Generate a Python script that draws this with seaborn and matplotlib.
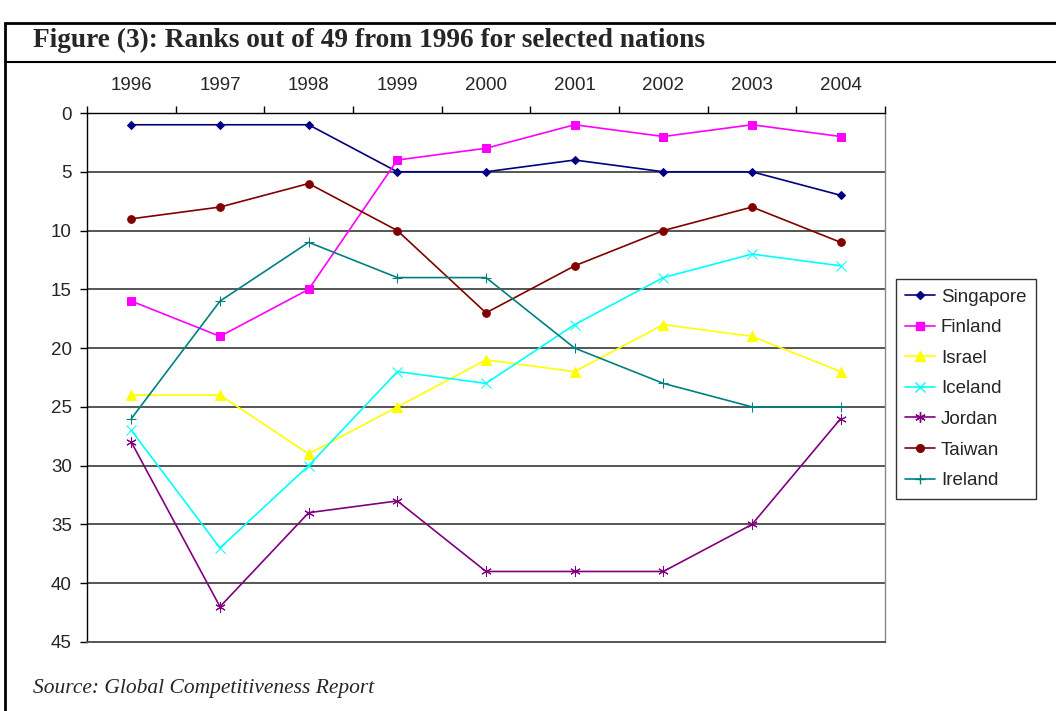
import matplotlib
matplotlib.use("Agg")
import matplotlib.pyplot as plt
import seaborn as sns
import pandas as pd
from matplotlib.patches import Rectangle
from matplotlib.lines import Line2D

years = ["1996", "1997", "1998", "1999", "2000", "2001", "2002", "2003", "2004"]
singapore = [1, 1, 1, 5, 5, 4, 5, 5, 7]
finland = [16, 19, 15, 4, 3, 1, 2, 1, 2]
israel = [24, 24, 29, 25, 21, 22, 18, 19, 22]
iceland = [27, 37, 30, 22, 23, 18, 14, 12, 13]
jordan = [28, 42, 34, 33, 39, 39, 39, 35, 26]
taiwan = [9, 8, 6, 10, 17, 13, 10, 8, 11]
ireland = [26, 16, 11, 14, 14, 20, 23, 25, 25]

series = {
    "Singapore": singapore, "Finland": finland, "Israel": israel,
    "Iceland": iceland, "Jordan": jordan, "Taiwan": taiwan, "Ireland": ireland,
}
styles = {
    "Singapore": ("#000080", "D", 4.5),
    "Finland": ("#FF00FF", "s", 5.5),
    "Israel": ("#FFFF00", "^", 6.5),
    "Iceland": ("#00FFFF", "x", 6.5),
    "Jordan": ("#800080", (6, 2, 0), 7.5),
    "Taiwan": ("#800000", "o", 5.5),
    "Ireland": ("#008080", "+", 7.5),
}

sns.set_style("white")
plt.rcParams["font.family"] = ["Liberation Sans", "DejaVu Sans"]

fig = plt.figure(figsize=(10.56, 7.11), dpi=100)
ax = fig.add_axes([87 / 1056, 1 - 642 / 711, (885 - 87) / 1056, (642 - 113) / 711])

xs = list(range(len(years)))
handles = []
for name, vals in series.items():
    c, m, s = styles[name]
    df = pd.DataFrame({"x": xs, "y": vals})
    sns.lineplot(data=df, x="x", y="y", ax=ax, color=c, marker=m, markersize=s,
                 markeredgecolor=c, markerfacecolor=c, linewidth=1.2, label=name, legend=False)
    handles.append(Line2D([0], [0], color=c, marker=m, markersize=s, markeredgecolor=c,
                          markerfacecolor=c, linewidth=1.2, label=name))

ax.set_xlim(-0.5, len(years) - 0.5)
ax.set_ylim(45, 0)
ax.set_yticks(range(0, 46, 5))
ax.set_xlabel("")
ax.set_ylabel("")
for y in range(5, 45, 5):
    ax.axhline(y, color="#555555", linewidth=1.4, zorder=0)

ax.xaxis.tick_top()
ax.set_xticks([i + 0.5 for i in range(len(years) - 1)] + [-0.5, len(years) - 0.5], minor=True)
ax.set_xticks(xs)
ax.set_xticklabels(years, fontsize=13.5)
ax.tick_params(axis="x", which="major", length=0, pad=14, top=True, bottom=False)
ax.tick_params(axis="x", which="minor", length=5, width=1, color="black", top=True, bottom=False, direction="out")
ax.tick_params(axis="y", which="major", length=5, width=1, color="black", labelsize=13.5, left=True, direction="out", pad=6)

ax.spines["top"].set_color("black")
ax.spines["left"].set_color("black")
ax.spines["bottom"].set_color("#555555")
ax.spines["bottom"].set_linewidth(1.4)
ax.spines["right"].set_visible(True)
ax.spines["right"].set_color("#888888")
ax.spines["right"].set_linewidth(1.0)
ax.spines["top"].set_linewidth(1.0)
ax.spines["left"].set_linewidth(1.0)

leg = fig.legend(handles=handles, loc="upper left", bbox_to_anchor=(896 / 1056, 1 - 279 / 711),
                 frameon=True, fancybox=False, edgecolor="black", fontsize=13.5,
                 handlelength=1.6, borderpad=0.5, labelspacing=0.72, handletextpad=0.3,
                 borderaxespad=0)
leg.get_frame().set_linewidth(1.0)

# outer box and title
fig.patches.append(Rectangle((5 / 1056, -0.05), 1.1, 1 - 23 / 711 + 0.05, transform=fig.transFigure,
                             fill=False, edgecolor="black", linewidth=2, zorder=0))
fig.add_artist(Line2D([5 / 1056, 1.0], [1 - 62 / 711, 1 - 62 / 711], transform=fig.transFigure,
                      color="black", linewidth=1.5))
fig.text(33 / 1056, 1 - 40 / 711, "Figure (3): Ranks out of 49 from 1996 for selected nations",
         fontsize=19.7, fontweight="bold", family=["Liberation Serif", "DejaVu Serif"], va="center", ha="left")
fig.text(33 / 1056, 1 - 689 / 711, "Source: Global Competitiveness Report",
         fontsize=15.5, style="italic", family=["Liberation Serif", "DejaVu Serif"], va="center", ha="left")

fig.savefig("out.png", dpi=100)
